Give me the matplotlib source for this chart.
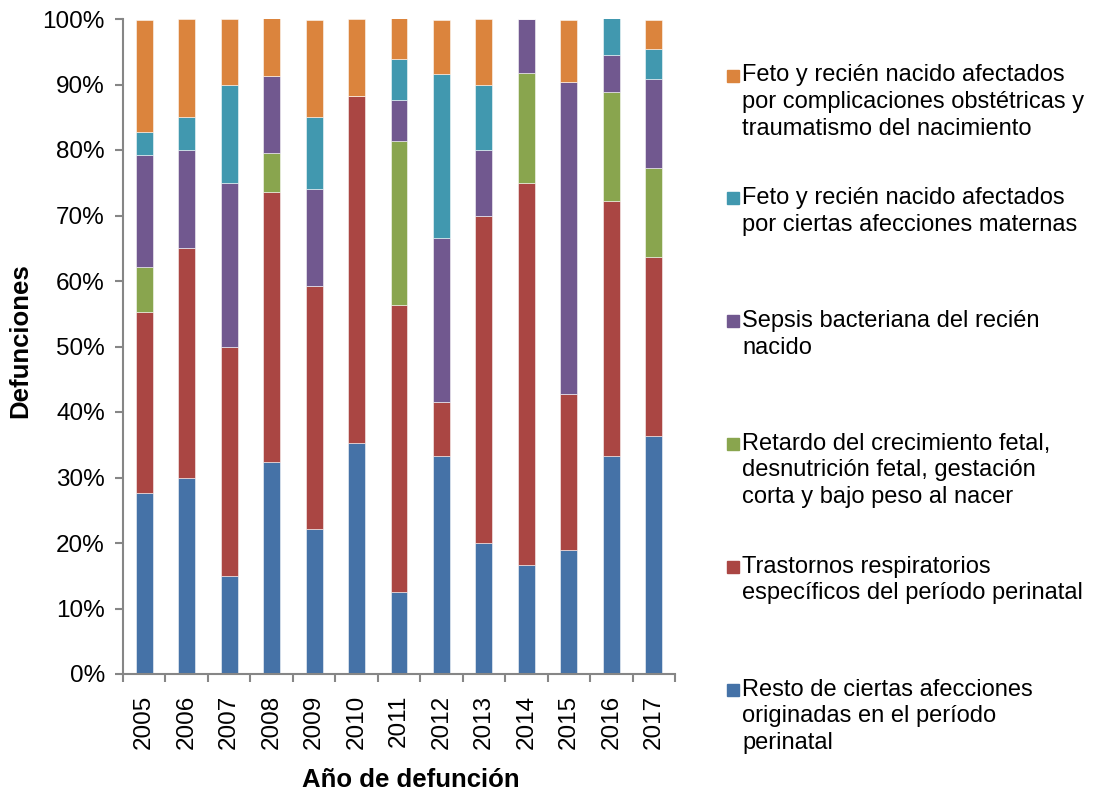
import numpy as np
import matplotlib
matplotlib.use("Agg")
import matplotlib.pyplot as plt
from matplotlib.patches import Rectangle

plt.rcParams['font.family'] = ['Liberation Sans', 'DejaVu Sans']

years = ['2005', '2006', '2007', '2008', '2009', '2010', '2011',
         '2012', '2013', '2014', '2015', '2016', '2017']

# percentage of deaths per cause (bottom to top)
resto = [27.6, 30.0, 15.0, 32.4, 22.2, 35.3, 12.5, 33.3, 20.0, 16.7, 19.0, 33.3, 36.4]
respiratorios = [27.6, 35.0, 35.0, 41.2, 37.0, 52.9, 43.8, 8.3, 50.0, 58.3, 23.8, 38.9, 27.3]
retardo = [6.9, 0.0, 0.0, 5.9, 0.0, 0.0, 25.0, 0.0, 0.0, 16.7, 0.0, 16.7, 13.6]
sepsis = [17.2, 15.0, 25.0, 11.8, 14.8, 0.0, 6.3, 25.0, 10.0, 8.3, 47.6, 5.6, 13.6]
maternas = [3.4, 5.0, 15.0, 0.0, 11.1, 0.0, 6.3, 25.0, 10.0, 0.0, 0.0, 5.6, 4.5]
complicaciones = [17.2, 15.0, 10.0, 8.8, 14.8, 11.8, 6.3, 8.3, 10.0, 0.0, 9.5, 0.0, 4.5]

series = [resto, respiratorios, retardo, sepsis, maternas, complicaciones]
labels = [
    "Resto de ciertas afecciones\noriginadas en el período\nperinatal",
    "Trastornos respiratorios\nespecíficos del período perinatal",
    "Retardo del crecimiento fetal,\ndesnutrición fetal, gestación\ncorta y bajo peso al nacer",
    "Sepsis bacteriana del recién\nnacido",
    "Feto y recién nacido afectados\npor ciertas afecciones maternas",
    "Feto y recién nacido afectados\npor complicaciones obstétricas y\ntraumatismo del nacimiento",
]
colors = ['#4572A7', '#AA4643', '#89A54E', '#71588F', '#4198AF', '#DB843D']

W, H = 1094, 795
fig = plt.figure(figsize=(W / 100, H / 100), dpi=100)
ax = fig.add_axes([123 / W, 1 - 674 / H, 552 / W, 655 / H])

x = np.arange(len(years))
bottom = np.zeros(len(years))
for vals, col in zip(series, colors):
    vals = np.array(vals)
    ax.bar(x, vals, 0.4, bottom=bottom, color=col, edgecolor=(1, 1, 1, 0.6),
           linewidth=0.6, zorder=2)
    bottom += vals

ax.set_xlim(-0.5, len(years) - 0.5)
ax.set_ylim(0, 100)
ax.set_yticks(np.arange(0, 101, 10))
ax.set_yticklabels([f"{v}%" for v in range(0, 101, 10)], fontsize=17.5)
ax.set_xticks(x)
ax.set_xticklabels(years, rotation=90, fontsize=17.5)
ax.set_xticks(np.arange(-0.5, len(years)), minor=True)
ax.tick_params(axis='x', which='major', length=0, pad=15)
ax.tick_params(axis='x', which='minor', length=6, width=1.5, color='#868686')
ax.tick_params(axis='y', length=6, width=1.5, color='#868686', pad=7)

for s in ['top', 'right']:
    ax.spines[s].set_visible(False)
for s in ['left', 'bottom']:
    ax.spines[s].set_color('#868686')
    ax.spines[s].set_linewidth(1.5)

fig.text(20 / W, 1 - 341 / H, "Defunciones", rotation=90, fontsize=18.5,
         fontweight='bold', ha='center', va='center')
fig.text(411 / W, 1 - 780 / H, "Año de defunción", fontsize=18.5,
         fontweight='bold', ha='center', va='center')

# legend on the right, top entry first
for i, (lab, col) in enumerate(zip(labels[::-1], colors[::-1])):
    cy = 75.5 + i * 122.8
    fig.patches.append(Rectangle((727 / W, 1 - (cy + 6) / H), 12 / W, 12 / H,
                                 color=col, transform=fig.transFigure, figure=fig))
    fig.text(742 / W, 1 - (cy - 11) / H, lab, fontsize=17, ha='left', va='top',
             linespacing=1.27)

fig.savefig("out.png", dpi=100)
